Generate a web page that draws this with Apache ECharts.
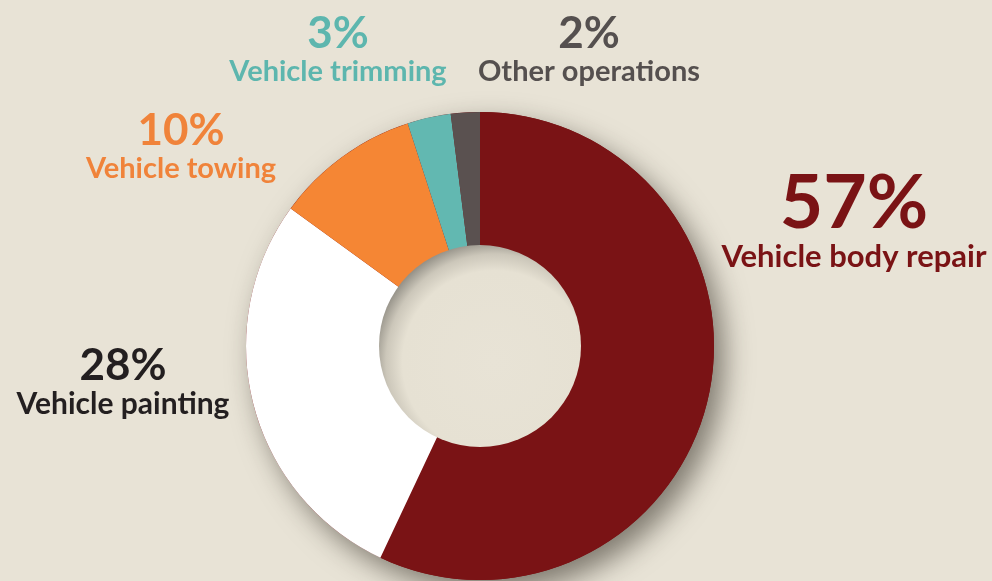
<!DOCTYPE html>
<html>
<head>
<meta charset="utf-8">
<script src="https://cdn.jsdelivr.net/npm/echarts@6/dist/echarts.min.js"></script>
<style>
html,body{margin:0;padding:0;background:#E8E3D6;}
#chart{width:992px;height:581px;}
</style>
</head>
<body>
<div id="chart"></div>
<script>
// ---- data ----
const categories = ['Vehicle body repair', 'Vehicle painting', 'Vehicle towing', 'Vehicle trimming', 'Other operations'];
const shares = [57, 28, 10, 3, 2];

// ---- styles ----
const sliceColors = ['#7A1315', '#FFFFFF', '#F58634', '#62B8B1', '#5A5150'];
const labelColors = ['#7A1315', '#231F20', '#F0833A', '#5DB6AE', '#55504F'];
const nameSizes = [31, 30, 29, 29, 29];
const labelPos = [[854, 222], [123, 382], [181, 147], [338, 50], [589, 50]];
const centerPt = [480, 346];
const outerR = 234, innerR = 100;

const total = shares.reduce((a, b) => a + b, 0);

const mainData = categories.map((name, i) => {
  const big = i === 0;
  return {
    name: name,
    value: shares[i],
    itemStyle: { color: sliceColors[i] },
    label: {
      color: labelColors[i],
      rich: {
        p: { fontFamily: 'Lato', fontWeight: 'bold', fontSize: big ? 75 : 44, lineHeight: big ? 70 : 44, color: labelColors[i] },
        n: { fontFamily: 'Lato', fontWeight: 'bold', fontSize: nameSizes[i], lineHeight: big ? 36 : 32, color: labelColors[i] }
      }
    }
  };
});

const chart = echarts.init(document.getElementById('chart'), null, { renderer: 'canvas' });
chart.setOption({
  backgroundColor: '#E8E3D6',
  animation: false,
  series: [
    {
      // soft drop shadow under the ring
      type: 'pie', silent: true, z: 1,
      center: centerPt, radius: [0, outerR],
      label: { show: false }, labelLine: { show: false },
      itemStyle: { color: '#7A1315', shadowBlur: 28, shadowOffsetX: 10, shadowOffsetY: 12, shadowColor: 'rgba(40,35,25,0.55)' },
      data: [{ name: 'shadow', value: total }]
    },
    {
      type: 'pie', z: 2,
      center: centerPt, radius: [innerR, outerR],
      startAngle: 90, clockwise: true,
      avoidLabelOverlap: false,
      itemStyle: { borderWidth: 0 },
      label: {
        show: true, position: 'outside',
        formatter: p => '{p|' + p.value + '%}\n{n|' + p.name + '}',
        align: 'center'
      },
      labelLine: { show: false },
      labelLayout: function (params) {
        const pos = labelPos[params.dataIndex];
        return { x: pos[0], y: pos[1], align: 'center', verticalAlign: 'middle' };
      },
      data: mainData
    },
    {
      // shaded hole
      type: 'pie', silent: true, z: 3,
      center: centerPt, radius: [0, innerR + 1],
      label: { show: false }, labelLine: { show: false },
      itemStyle: {
        color: {
          type: 'radial', x: 0.57, y: 0.58, r: 0.63,
          colorStops: [
            { offset: 0, color: '#E8E3D6' },
            { offset: 0.72, color: '#E6E1D3' },
            { offset: 0.85, color: '#CCC7BA' },
            { offset: 1, color: '#807D75' }
          ]
        }
      },
      data: [{ name: 'hole', value: total }]
    }
  ]
});
</script>
</body>
</html>
